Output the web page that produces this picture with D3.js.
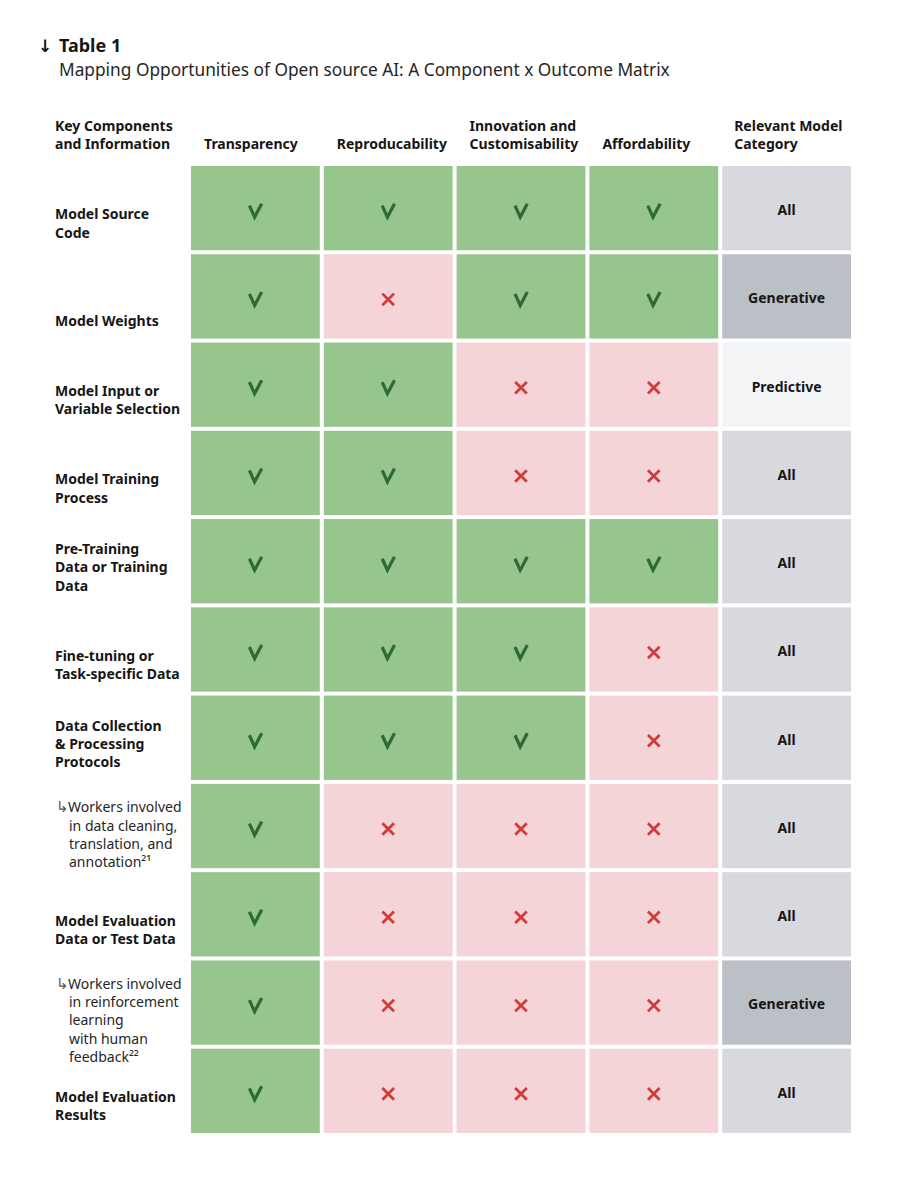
<!DOCTYPE html>
<html>
<head>
<meta charset="utf-8">
<script src="https://cdn.jsdelivr.net/npm/d3@7"></script>
<style>
  body { margin: 0; background: #fff; }
  text { font-family: "Noto Sans", "Open Sans", sans-serif; fill: #161616; }
</style>
</head>
<body>
<div id="chart"></div>
<script>
// table content
var outcomes = ["Transparency", "Reproducability", "Innovation and\nCustomisability", "Affordability"];
var rowHeader = "Key Components\nand Information";
var catHeader = "Relevant Model\nCategory";

var components = [
  "Model Source\nCode",
  "Model Weights",
  "Model Input or\nVariable Selection",
  "Model Training\nProcess",
  "Pre-Training\nData or Training\nData",
  "Fine-tuning or\nTask-specific Data",
  "Data Collection\n& Processing\nProtocols",
  "↳Workers involved\nin data cleaning,\ntranslation, and\nannotation²¹",
  "Model Evaluation\nData or Test Data",
  "↳Workers involved\nin reinforcement\nlearning\nwith human\nfeedback²²",
  "Model Evaluation\nResults"
];

// 1 = opportunity (check), 0 = no (cross); columns follow outcomes
var matrix = [
  [1, 1, 1, 1],
  [1, 0, 1, 1],
  [1, 1, 0, 0],
  [1, 1, 0, 0],
  [1, 1, 1, 1],
  [1, 1, 1, 0],
  [1, 1, 1, 0],
  [1, 0, 0, 0],
  [1, 0, 0, 0],
  [1, 0, 0, 0],
  [1, 0, 0, 0]
];

var categories = ["All", "Generative", "Predictive", "All", "All", "All", "All", "All", "All", "Generative", "All"];

var width = 915,
  height = 1200,
  lineH = 18.3;

var catColor = { "All": "#d7d9df", "Generative": "#bbbfc6", "Predictive": "#f3f4f6" };

var svg = d3.select("#chart").append("svg")
  .attr("width", width)
  .attr("height", height);

var x = d3.scaleBand()
  .domain(d3.range(outcomes.length + 1))
  .range([191, 851])
  .paddingInner(0.03);

var y = d3.scaleBand()
  .domain(d3.range(components.length))
  .range([166, 1133])
  .paddingInner(0.045);

// title
var title = svg.append("g");
title.append("text")
  .attr("x", 38).attr("y", 46).attr("dy", ".35em")
  .style("font-family", "'DejaVu Sans', sans-serif")
  .style("font-size", "17px").style("font-weight", 700)
  .text("↓");
title.append("text")
  .attr("x", 59).attr("y", 46).attr("dy", ".35em")
  .style("font-size", "18px").style("font-weight", 700)
  .text("Table 1");
title.append("text")
  .attr("x", 59).attr("y", 70).attr("dy", ".35em")
  .style("font-size", "17.3px").style("fill", "#262626")
  .text("Mapping Opportunities of Open source AI: A Component x Outcome Matrix");

// multi-line text, bottom aligned on lastY
function lines(g, str, xPos, lastY, weight) {
  var parts = str.split("\n");
  parts.forEach(function(p, i) {
    g.append("text")
      .attr("x", xPos)
      .attr("y", lastY - (parts.length - 1 - i) * lineH)
      .attr("dy", ".35em")
      .style("font-size", "14px")
      .style("font-weight", weight)
      .text(p);
  });
}

// headers
var head = svg.append("g");
lines(head, rowHeader, 55, 144, 700);
outcomes.forEach(function(o, i) {
  lines(head, o, x(i) + 13, 144, 700);
});
lines(head, catHeader, x(outcomes.length) + 12, 144, 700);

// row labels
var labels = svg.append("g");
components.forEach(function(c, i) {
  var parts = c.split("\n");
  if (c.charAt(0) === "↳") {
    // sub items: top aligned, indented continuation
    parts.forEach(function(p, j) {
      var t = labels.append("text")
        .attr("x", j === 0 ? 56 : 69)
        .attr("y", y(i) + 23.5 + j * lineH)
        .attr("dy", ".35em")
        .style("font-size", "14px")
        .style("fill", "#262626");
      if (j === 0) {
        t.append("tspan").style("font-size", "15px").style("fill", "#555").text("↳");
        t.append("tspan").attr("x", 68).text(p.slice(1));
      } else {
        t.text(p);
      }
    });
  } else {
    lines(labels, c, 55, y(i) + y.bandwidth() - 17.5, 700);
  }
});

// cells
var cells = [];
matrix.forEach(function(row, i) {
  row.forEach(function(v, j) {
    cells.push({ row: i, col: j, value: v });
  });
});

var cell = svg.selectAll("g.cell")
  .data(cells)
  .enter().append("g")
  .attr("class", "cell")
  .attr("transform", function(d) { return "translate(" + x(d.col) + "," + y(d.row) + ")"; });

cell.append("rect")
  .attr("width", x.bandwidth())
  .attr("height", y.bandwidth())
  .style("fill", function(d) { return d.value ? "#96c58d" : "#f4d4d6"; });

cell.append("path")
  .attr("transform", "translate(" + x.bandwidth() / 2 + "," + y.bandwidth() / 2 + ")")
  .attr("d", function(d) {
    return d.value ? "M-6,-2.5L-0.8,9L6.3,-4.5" : "M-5.8,-2.8L5.8,8.8M5.8,-2.8L-5.8,8.8";
  })
  .style("fill", "none")
  .style("stroke", function(d) { return d.value ? "#2d6a35" : "#d13b3b"; })
  .style("stroke-width", function(d) { return d.value ? 3.2 : 2.8; });

// category column
var cat = svg.selectAll("g.cat")
  .data(categories)
  .enter().append("g")
  .attr("class", "cat")
  .attr("transform", function(d, i) { return "translate(" + x(outcomes.length) + "," + y(i) + ")"; });

cat.append("rect")
  .attr("width", x.bandwidth())
  .attr("height", y.bandwidth())
  .style("fill", function(d) { return catColor[d]; });

cat.append("text")
  .attr("x", x.bandwidth() / 2)
  .attr("y", y.bandwidth() / 2 + 2)
  .attr("dy", ".35em")
  .style("text-anchor", "middle")
  .style("font-size", "14px")
  .style("font-weight", 700)
  .text(function(d) { return d; });
</script>
</body>
</html>
